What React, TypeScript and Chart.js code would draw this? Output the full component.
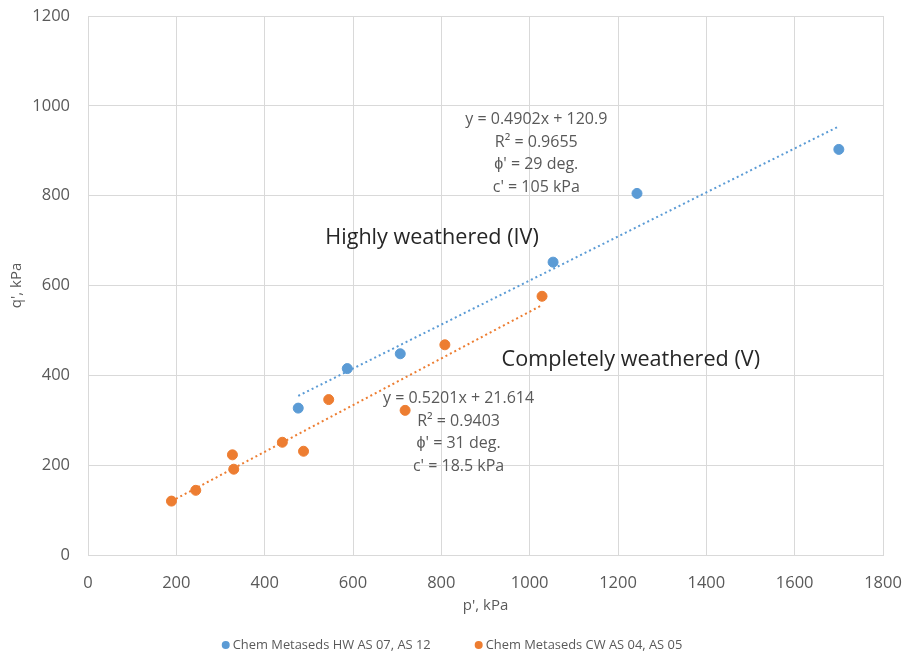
import React, { useEffect, useRef } from "react";
import { Chart, registerables } from "chart.js";

Chart.register(...registerables);

// ---- Data ----
const hwP = [476, 587, 707, 1053, 1243, 1700];
const hwQ = [327, 415, 448, 652, 805, 903];

const cwP = [189, 244, 327, 330, 440, 488, 545, 718, 808, 1028];
const cwQ = [120, 144, 223, 191, 251, 231, 346, 322, 468, 576];

// trendline coefficients (Excel linear fits)
const hwSlope = 0.4902;
const hwIntercept = 120.9;
const cwSlope = 0.5201;
const cwIntercept = 21.614;

const hwLabel = "Chem Metaseds HW AS 07, AS 12";
const cwLabel = "Chem Metaseds CW AS 04, AS 05";

const hwText = ["y = 0.4902x + 120.9", "R² = 0.9655", "ϕ' = 29 deg.", "c' = 105 kPa"];
const cwText = ["y = 0.5201x + 21.614", "R² = 0.9403", "ϕ' = 31 deg.", "c' = 18.5 kPa"];

const xTicks = [0, 200, 400, 600, 800, 1000, 1200, 1400, 1600, 1800];
const yTicks = [0, 200, 400, 600, 800, 1000, 1200];

const BLUE = "#5b9bd5";
const ORANGE = "#ed7d31";
const FONT = "'Open Sans', 'Liberation Sans', sans-serif";
const TXT = "#595959";

function trend(xs: number[], m: number, b: number) {
  const lo = Math.min(...xs);
  const hi = Math.max(...xs);
  return [
    { x: lo, y: m * lo + b },
    { x: hi, y: m * hi + b },
  ];
}

const annotationPlugin = {
  id: "annots",
  afterDatasetsDraw(chart: any) {
    const { ctx, scales } = chart;
    const xs = scales.x;
    const ys = scales.y;
    ctx.save();
    ctx.textAlign = "center";
    ctx.textBaseline = "middle";
    ctx.fillStyle = TXT;
    ctx.font = `16px ${FONT}`;
    const block = (lines: string[], dx: number, dy: number, step: number) => {
      const px = xs.getPixelForValue(dx);
      const py = ys.getPixelForValue(dy);
      lines.forEach((l, i) => ctx.fillText(l, px, py + i * step));
    };
    block(hwText, 1015, 970, 22.7);
    block(cwText, 839, 349, 22.7);

    ctx.fillStyle = "#262626";
    ctx.font = `21.6px ${FONT}`;
    ctx.fillText("Highly weathered (IV)", xs.getPixelForValue(779), ys.getPixelForValue(705));
    ctx.fillText("Completely weathered (V)", xs.getPixelForValue(1229), ys.getPixelForValue(435));
    ctx.restore();
  },
  afterDraw(chart: any) {
    const { ctx } = chart;
    ctx.save();
    ctx.font = `12.9px ${FONT}`;
    ctx.textBaseline = "middle";
    ctx.textAlign = "left";
    const items = [
      { label: hwLabel, color: BLUE },
      { label: cwLabel, color: ORANGE },
    ];
    const gap = 44;
    const dotW = 11;
    const widths = items.map((it) => ctx.measureText(it.label).width + dotW);
    const total = widths.reduce((a, b) => a + b, 0) + gap * (items.length - 1);
    let x = chart.width / 2 - total / 2;
    const y = 645;
    items.forEach((it, i) => {
      ctx.fillStyle = it.color;
      ctx.beginPath();
      ctx.arc(x + 4, y, 4, 0, Math.PI * 2);
      ctx.fill();
      ctx.fillStyle = TXT;
      ctx.fillText(it.label, x + dotW, y);
      x += widths[i] + gap;
    });
    ctx.restore();
  },
};

export default function App() {
  const ref = useRef<HTMLCanvasElement | null>(null);

  useEffect(() => {
    if (!ref.current) return;
    const chart = new Chart(ref.current, {
      type: "scatter",
      data: {
        datasets: [
          {
            label: hwLabel,
            data: hwP.map((p, i) => ({ x: p, y: hwQ[i] })),
            backgroundColor: BLUE,
            borderColor: BLUE,
            pointRadius: 5,
          },
          {
            label: cwLabel,
            data: cwP.map((p, i) => ({ x: p, y: cwQ[i] })),
            backgroundColor: ORANGE,
            borderColor: ORANGE,
            pointRadius: 5,
          },
          {
            label: "HW trend",
            type: "line",
            data: trend(hwP, hwSlope, hwIntercept),
            borderColor: BLUE,
            borderWidth: 2,
            borderDash: [2, 3],
            pointRadius: 0,
            showLine: true,
            fill: false,
          } as any,
          {
            label: "CW trend",
            type: "line",
            data: trend(cwP, cwSlope, cwIntercept),
            borderColor: ORANGE,
            borderWidth: 2,
            borderDash: [2, 3],
            pointRadius: 0,
            showLine: true,
            fill: false,
          } as any,
        ],
      },
      options: {
        animation: false,
        responsive: true,
        maintainAspectRatio: false,
        layout: { padding: { top: 16, right: 21, left: 0, bottom: 37 } },
        plugins: {
          legend: { display: false },
          tooltip: { enabled: false },
        },
        scales: {
          x: {
            type: "linear",
            min: 0,
            max: 1800,
            afterBuildTicks: (s: any) => {
              s.ticks = xTicks.map((v) => ({ value: v }));
            },
            afterFit: (s: any) => {
              s.height = 70;
              s.paddingLeft = 0;
              s.paddingRight = 0;
            },
            grid: { color: "#d9d9d9", drawTicks: false, lineWidth: 1 },
            border: { color: "#d9d9d9" },
            ticks: {
              color: TXT,
              padding: 18,
              font: { family: FONT, size: 16.5 },
              callback: (v: any) => String(v),
            },
            title: {
              display: true,
              text: "p', kPa",
              color: TXT,
              font: { family: FONT, size: 15 },
              padding: { top: 0, bottom: 10 },
            },
          },
          y: {
            type: "linear",
            min: 0,
            max: 1200,
            afterBuildTicks: (s: any) => {
              s.ticks = yTicks.map((v) => ({ value: v }));
            },
            afterFit: (s: any) => {
              s.width = 88;
              s.paddingTop = 0;
              s.paddingBottom = 0;
            },
            grid: { color: "#d9d9d9", drawTicks: false, lineWidth: 1 },
            border: { color: "#d9d9d9" },
            ticks: {
              color: TXT,
              padding: 18,
              font: { family: FONT, size: 16.5 },
              callback: (v: any) => String(v),
            },
            title: {
              display: true,
              text: "q', kPa",
              color: TXT,
              font: { family: FONT, size: 15 },
              padding: { top: 8, bottom: 0 },
            },
          },
        },
      },
      plugins: [annotationPlugin],
    });
    return () => chart.destroy();
  }, []);

  return (
    <div style={{ position: "absolute", left: 0, top: 0, width: 904, height: 662, background: "#fff" }}>
      <canvas ref={ref} style={{ display: "block" }} />
    </div>
  );
}
